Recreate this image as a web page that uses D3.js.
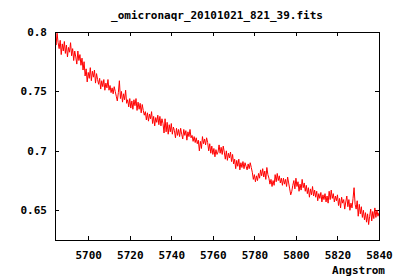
<!DOCTYPE html>
<html>
<head>
<meta charset="utf-8">
<script src="https://cdn.jsdelivr.net/npm/d3@7"></script>
<style>
	body { margin: 0; background: #fff; }
	text { font-family: 'DejaVu Sans Mono', monospace; font-weight: bold; font-size: 11px; fill: #000; }
</style>
</head>
<body>
<svg id="chart" width="400" height="280"></svg>
<script>
/* global d3 */

var title = '_omicronaqr_20101021_821_39.fits';
var xLabel = 'Angstrom';
var xTicks = [5700, 5720, 5740, 5760, 5780, 5800, 5820, 5840];
var yTicks = [0.65, 0.7, 0.75, 0.8];
var xDomain = [5684, 5840];
var yDomain = [0.625, 0.8];

// Spektrum: Startwellenlaenge und Schrittweite (wie im FITS-Header)
var lambdaStart = 5684;
var lambdaStep = 0.5;
var flux = [
	0.797, 0.789, 0.799, 0.791, 0.786, 0.793, 0.781, 0.790, 0.784, 0.792,
	0.782, 0.789, 0.779, 0.787, 0.783, 0.791, 0.780, 0.786, 0.776, 0.784,
	0.779, 0.773, 0.784, 0.776, 0.781, 0.772, 0.778, 0.768, 0.775, 0.763,
	0.769, 0.758, 0.766, 0.761, 0.770, 0.759, 0.767, 0.762, 0.768, 0.757,
	0.765, 0.760, 0.756, 0.761, 0.752, 0.759, 0.754, 0.760, 0.751, 0.757,
	0.753, 0.760, 0.751, 0.755, 0.749, 0.753, 0.748, 0.754, 0.750, 0.746,
	0.742, 0.749, 0.759, 0.744, 0.750, 0.741, 0.748, 0.743, 0.751, 0.740,
	0.743, 0.737, 0.744, 0.736, 0.742, 0.735, 0.743, 0.738, 0.744, 0.734,
	0.741, 0.735, 0.740, 0.732, 0.739, 0.734, 0.730, 0.733, 0.726, 0.732,
	0.725, 0.731, 0.727, 0.733, 0.723, 0.729, 0.721, 0.728, 0.724, 0.730,
	0.722, 0.729, 0.721, 0.727, 0.723, 0.715, 0.727, 0.716, 0.724, 0.714,
	0.722, 0.716, 0.723, 0.714, 0.720, 0.717, 0.711, 0.719, 0.713, 0.718,
	0.712, 0.719, 0.714, 0.710, 0.718, 0.713, 0.717, 0.709, 0.716, 0.712,
	0.718, 0.711, 0.713, 0.708, 0.712, 0.707, 0.711, 0.706, 0.709, 0.700,
	0.708, 0.702, 0.712, 0.706, 0.710, 0.705, 0.711, 0.707, 0.700, 0.706,
	0.698, 0.704, 0.697, 0.702, 0.695, 0.701, 0.697, 0.699, 0.705, 0.698,
	0.703, 0.697, 0.704, 0.699, 0.693, 0.700, 0.692, 0.698, 0.694, 0.699,
	0.691, 0.697, 0.689, 0.693, 0.685, 0.692, 0.687, 0.693, 0.684, 0.690,
	0.686, 0.691, 0.685, 0.690, 0.687, 0.684, 0.689, 0.685, 0.690, 0.686,
	0.682, 0.676, 0.680, 0.674, 0.679, 0.675, 0.681, 0.677, 0.684, 0.679,
	0.685, 0.678, 0.683, 0.676, 0.686, 0.680, 0.677, 0.672, 0.676, 0.670,
	0.675, 0.671, 0.680, 0.674, 0.681, 0.675, 0.679, 0.673, 0.677, 0.671,
	0.677, 0.672, 0.676, 0.670, 0.678, 0.673, 0.668, 0.663, 0.666, 0.671,
	0.675, 0.668, 0.677, 0.670, 0.674, 0.666, 0.672, 0.667, 0.676, 0.669,
	0.673, 0.666, 0.671, 0.664, 0.669, 0.661, 0.668, 0.663, 0.670, 0.662,
	0.667, 0.661, 0.666, 0.658, 0.664, 0.660, 0.665, 0.657, 0.663, 0.659,
	0.664, 0.657, 0.662, 0.656, 0.666, 0.659, 0.667, 0.660, 0.664, 0.657,
	0.662, 0.658, 0.663, 0.654, 0.660, 0.652, 0.661, 0.656, 0.659, 0.651,
	0.657, 0.662, 0.653, 0.659, 0.650, 0.656, 0.652, 0.660, 0.669, 0.655,
	0.651, 0.658, 0.645, 0.655, 0.647, 0.653, 0.644, 0.650, 0.642, 0.648,
	0.640, 0.647, 0.638, 0.645, 0.651, 0.641, 0.649, 0.643, 0.652, 0.644,
	0.650, 0.645, 0.648
];

var plot = {left: 55, right: 379, top: 32, bottom: 240};
var tickLen = 4;

var svg = d3.select('#chart');
var x = d3.scaleLinear().domain(xDomain).range([plot.left, plot.right]);
var y = d3.scaleLinear().domain(yDomain).range([plot.bottom, plot.top]);

svg.append('clipPath').attr('id', 'clip')
	.append('rect')
	.attr('x', plot.left).attr('y', plot.top)
	.attr('width', plot.right - plot.left).attr('height', plot.bottom - plot.top);

// Achsen: Ticks nach innen, auf allen vier Seiten
function crisp (sel) {
	sel.select('.domain').remove();
	sel.selectAll('line').attr('stroke', '#000').attr('shape-rendering', 'crispEdges');
}
svg.append('g').attr('transform', 'translate(0,' + plot.bottom + ')')
	.call(d3.axisBottom(x).tickValues(xTicks).tickSize(-tickLen).tickPadding(11).tickFormat(d3.format('d')))
	.call(crisp)
	.selectAll('text').attr('dy', '0.71em');
svg.append('g').attr('transform', 'translate(0,' + plot.top + ')')
	.call(d3.axisTop(x).tickValues(xTicks).tickSize(-tickLen).tickFormat(''))
	.call(crisp);
svg.append('g').attr('transform', 'translate(' + plot.left + ',0)')
	.call(d3.axisLeft(y).tickValues(yTicks).tickSize(-tickLen).tickPadding(8).tickFormat(d3.format('')))
	.call(crisp);
svg.append('g').attr('transform', 'translate(' + plot.right + ',0)')
	.call(d3.axisRight(y).tickValues(yTicks).tickSize(-tickLen).tickFormat(''))
	.call(crisp);
svg.selectAll('.tick text').attr('font-family', null).attr('font-size', null);

svg.append('g').attr('clip-path', 'url(#clip)')
	.append('path')
	.datum(flux)
	.attr('fill', 'none')
	.attr('stroke', '#ff0000')
	.attr('stroke-width', 1)
	.attr('d', d3.line()
		.x(function (d, i) { return x(lambdaStart + i * lambdaStep); })
		.y(function (d) { return y(d); }));

svg.append('rect')
	.attr('x', plot.left + 0.5).attr('y', plot.top + 0.5)
	.attr('width', plot.right - plot.left).attr('height', plot.bottom - plot.top)
	.attr('fill', 'none').attr('stroke', '#000').attr('shape-rendering', 'crispEdges');

svg.append('text')
	.attr('x', (plot.left + plot.right) / 2).attr('y', 19)
	.attr('text-anchor', 'middle')
	.text(title);
svg.append('text')
	.attr('x', 385).attr('y', 274)
	.attr('text-anchor', 'end')
	.text(xLabel);
</script>
</body>
</html>
